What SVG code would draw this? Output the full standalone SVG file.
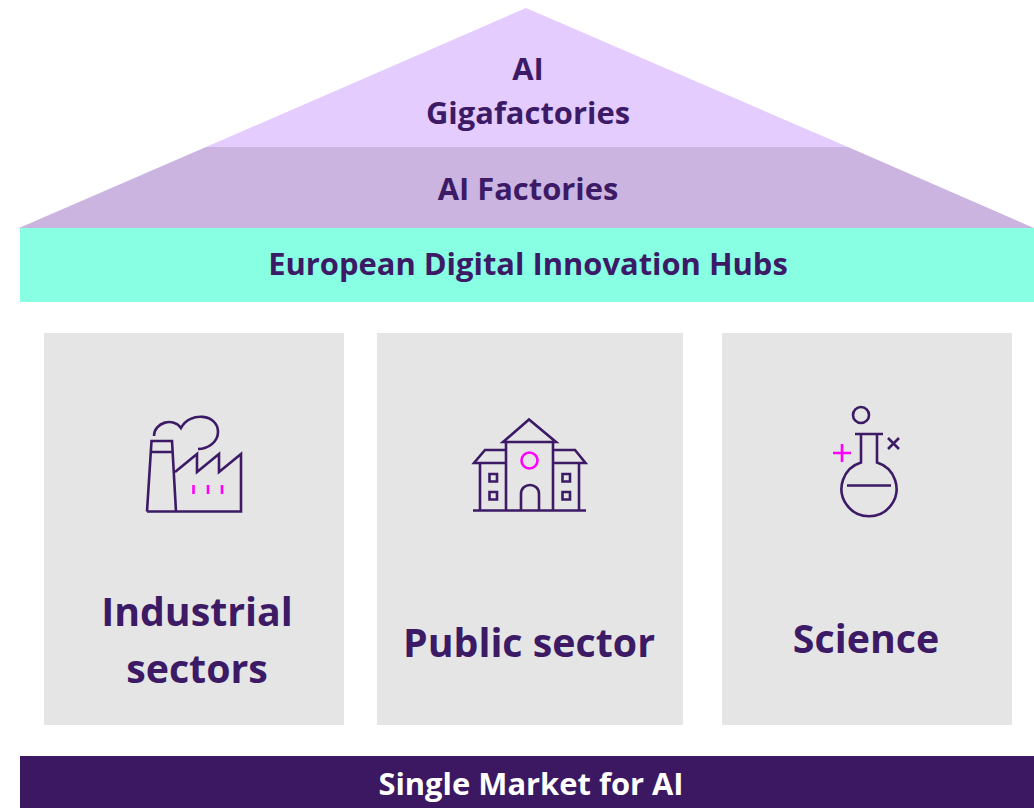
<svg xmlns="http://www.w3.org/2000/svg" width="1034" height="808" viewBox="0 0 1034 808">
<style>
text{font-family:"Open Sans","Noto Sans","Liberation Sans",sans-serif;font-weight:700;fill:#3c1a66;text-anchor:middle}
.t{font-size:30.900px}
.b{font-size:39.300px}
.panel{fill:#e5e5e5}
.ic{fill:none;stroke:#3c1a66;stroke-width:2.600;stroke-linejoin:miter}
.pk{fill:none;stroke:#ff00ff;stroke-width:2.600}
</style>
<rect width="1034" height="808" fill="#fff"/>
<g id="gigafactories">
<polygon points="526,8 848,147 206,147" fill="#e5ccff"/>
<text class="t" x="528" y="80">AI</text>
<text class="t" x="528" y="124">Gigafactories</text>
</g>
<g id="ai-factories">
<polygon points="206,147 848,147 1034,228 19,228" fill="#cbb5e0"/>
<text class="t" x="528" y="200">AI Factories</text>
</g>
<g id="edih">
<rect x="20" y="228" width="1014" height="74" fill="#88ffe3"/>
<text class="t" x="528" y="275">European Digital Innovation Hubs</text>
</g>
<g id="industrial-sectors">
<rect class="panel" x="44" y="333" width="300" height="392"/>
<path class="ic" d="M147 511.500L151.500 441H172L176 511.500M152 452H172M147 511.500H241V454L219 472V454L197 472V454L175 472"/>
<path class="ic" d="M154 436C154 422 174 417 181 428C190 411 218 414 218 432C218 442 208 449 198 449"/>
<path class="pk" d="M193.500 485V494M208 485V494M222 485V494"/>
<text class="b" x="197" y="626">Industrial</text>
<text class="b" x="197" y="683">sectors</text>
</g>
<g id="public-sector">
<rect class="panel" x="377" y="333" width="306" height="392"/>
<path class="ic" d="M503 442L529 419.500L556 442ZM506 442V510.500M553 442V510.500M506 450H485L474 463H506M553 450H575L585.500 463H553M480 463V510.500M579 463V510.500M473 510.500H586M521 510.500V494C521 482 539 482 539 494V510.500"/>
<path class="ic" d="M489.500 474H497V481.500H489.500ZM489.500 492H497V499.500H489.500ZM562.500 474H570V481.500H562.500ZM562.500 492H570V499.500H562.500Z"/>
<circle class="pk" cx="529.500" cy="460.500" r="8"/>
<text class="b" x="529" y="657">Public sector</text>
</g>
<g id="science">
<rect class="panel" x="722" y="333" width="290" height="392"/>
<circle class="ic" cx="861" cy="415" r="8"/>
<path class="ic" d="M855 434H883M861 434V462.500A27.500 27.500 0 1 0 877 462.500V434M847 485.500H891M888 438L899 449M899 438L888 449"/>
<path class="pk" d="M833 453H851M842 444V462"/>
<text class="b" x="866" y="653">Science</text>
</g>
<g id="single-market">
<rect x="20" y="756" width="1014" height="52" fill="#3c1762"/>
<text class="t" x="531" y="795" style="fill:#fff">Single Market for AI</text>
</g>
<g id="connectors"/>
</svg>
